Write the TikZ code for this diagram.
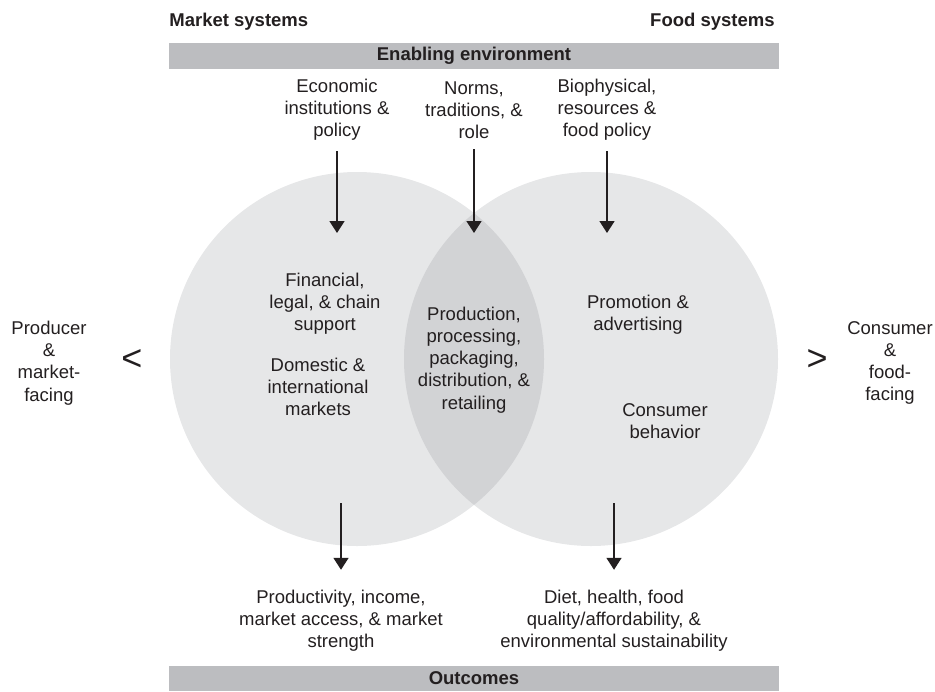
\documentclass[tikz,border=0pt]{standalone}
\usepackage{fontspec}
\setmainfont{Liberation Sans}
\usepackage{tikz}
\usetikzlibrary{arrows.meta,positioning,calc}
\definecolor{venn}{HTML}{E6E7E8}
\definecolor{lens}{HTML}{D2D3D5}
\definecolor{band}{HTML}{BCBDC0}
\definecolor{ink}{HTML}{231F20}
\tikzset{
  lbl/.style={align=center,inner sep=0pt,text=ink,
              font=\fontsize{9.25}{11.1}\selectfont},
  hdr/.style={inner sep=0pt,text=ink,
              font=\fontsize{9.25}{11.1}\selectfont\bfseries},
  bandbox/.style={fill=band,draw=none,minimum width=305pt,minimum height=13pt,
                  inner sep=0pt,text=ink,font=\fontsize{9.25}{11.1}\selectfont\bfseries},
  sidemark/.style={inner sep=0pt,text=ink,font=\fontsize{18}{18}\selectfont},
  flow/.style={-{Triangle[length=6pt,width=7.5pt]},line width=0.8pt,draw=ink}
}

\begin{document}
\begin{tikzpicture}[x=0.5pt,y=-0.5pt]
    \path[use as bounding box] (0,0) rectangle (935,691);

    \fill[venn] (357,359) circle[radius=93.5pt];
    \fill[venn] (591,359) circle[radius=93.5pt];
    \begin{scope}
      \clip (357,359) circle[radius=93.5pt];
      \fill[lens] (591,359) circle[radius=93.5pt];
    \end{scope}

    \node[hdr,anchor=west] (mktsys) at (169,22) {Market systems};
    \node[hdr,anchor=east] (foodsys) at (775,22) {Food systems};
    \node[bandbox] (enabling) at (474,56) {Enabling environment};

    \node[lbl] (econ) at (337,110) {Economic\\institutions \&\\policy};
    \node[lbl] (norms) at (474,110) {Norms,\\traditions, \&\\role};
    \node[lbl] (bio) at (607,110) {Biophysical,\\resources \&\\food policy};
    \coordinate (econtip) at (337,233);
    \coordinate (normstip) at (474,233);
    \coordinate (biotip) at (607,233);

    \node[lbl] (finance) at (325,304) {Financial,\\legal, \& chain\\support};
    \node[lbl] (domestic) at (318,387) {Domestic \&\\international\\markets};
    \node[lbl] (chain) at (474,360)
      {Production,\\processing,\\packaging,\\distribution, \&\\retailing};
    \node[lbl] (promo) at (638,315) {Promotion \&\\advertising};
    \node[lbl] (behav) at (665,421) {Consumer\\behavior};

    \node[lbl] (producer) at (49,363) {Producer\\\&\\market-\\facing};
    \node[sidemark] (lessthan) at (132,360) {<};
    \node[sidemark] (greater) at (817,360) {>};
    \node[lbl] (consumer) at (890,363) {Consumer\\\&\\food-\\facing};

    \coordinate (mktout) at (341,503);
    \coordinate (foodout) at (614,503);
    \node[lbl] (mktres) at (341,621)
      {Productivity, income,\\market access, \& market\\strength};
    \node[lbl] (foodres) at (614,621)
      {Diet, health, food\\quality/affordability, \&\\environmental sustainability};
    \node[bandbox,minimum height=12.5pt] (outcomes) at (474,678.5) {Outcomes};

    \draw[flow,shorten <=5pt] (econ.south) -- (econtip);
    \draw[flow,shorten <=5pt] (norms.south) -- (normstip);
    \draw[flow,shorten <=5pt] (bio.south) -- (biotip);
    \draw[flow,shorten >=10pt] (mktout) -- (mktres.north);
    \draw[flow,shorten >=10pt] (foodout) -- (foodres.north);
  \end{tikzpicture}
\end{document}
